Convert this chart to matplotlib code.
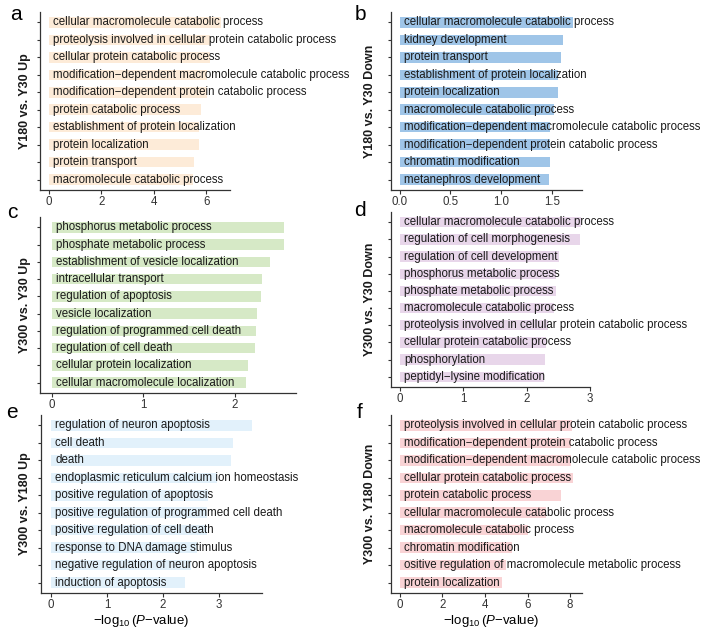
# GO enrichment bar panels a-f
import matplotlib
matplotlib.use("Agg")
import matplotlib.pyplot as plt

plt.rcParams["font.family"] = ["Liberation Sans", "DejaVu Sans"]
plt.rcParams["mathtext.fontset"] = "custom"
plt.rcParams["mathtext.rm"] = "Liberation Sans"
plt.rcParams["mathtext.it"] = "Liberation Sans:italic"

M = "\u2212"

# panel a: Y180 vs. Y30 Up
terms_a = ["cellular macromolecule catabolic process",
           "proteolysis involved in cellular protein catabolic process",
           "cellular protein catabolic process",
           f"modification{M}dependent macromolecule catabolic process",
           f"modification{M}dependent protein catabolic process",
           "protein catabolic process",
           "establishment of protein localization",
           "protein localization",
           "protein transport",
           "macromolecule catabolic process"]
vals_a = [6.58, 6.16, 6.16, 6.03, 6.03, 5.79, 5.71, 5.71, 5.53, 5.50]

# panel b: Y180 vs. Y30 Down
terms_b = ["cellular macromolecule catabolic process",
           "kidney development",
           "protein transport",
           "establishment of protein localization",
           "protein localization",
           "macromolecule catabolic process",
           f"modification{M}dependent macromolecule catabolic process",
           f"modification{M}dependent protein catabolic process",
           "chromatin modification",
           "metanephros development"]
vals_b = [1.71, 1.605, 1.585, 1.56, 1.555, 1.52, 1.476, 1.476, 1.476, 1.47]

# panel c: Y300 vs. Y30 Up
terms_c = ["phosphorus metabolic process",
           "phosphate metabolic process",
           "establishment of vesicle localization",
           "intracellular transport",
           "regulation of apoptosis",
           "vesicle localization",
           "regulation of programmed cell death",
           "regulation of cell death",
           "cellular protein localization",
           "cellular macromolecule localization"]
vals_c = [2.54, 2.54, 2.38, 2.30, 2.28, 2.24, 2.235, 2.22, 2.14, 2.12]

# panel d: Y300 vs. Y30 Down
terms_d = ["cellular macromolecule catabolic process",
           "regulation of cell morphogenesis",
           "regulation of cell development",
           "phosphorus metabolic process",
           "phosphate metabolic process",
           "macromolecule catabolic process",
           "proteolysis involved in cellular protein catabolic process",
           "cellular protein catabolic process",
           "phosphorylation",
           f"peptidyl{M}lysine modification"]
vals_d = [2.86, 2.845, 2.51, 2.47, 2.46, 2.43, 2.34, 2.31, 2.29, 2.28]

# panel e: Y300 vs. Y180 Up
terms_e = ["regulation of neuron apoptosis",
           "cell death",
           "death",
           "endoplasmic reticulum calcium ion homeostasis",
           "positive regulation of apoptosis",
           "positive regulation of programmed cell death",
           "positive regulation of cell death",
           "response to DNA damage stimulus",
           "negative regulation of neuron apoptosis",
           "induction of apoptosis"]
vals_e = [3.59, 3.26, 3.22, 2.97, 2.80, 2.79, 2.78, 2.61, 2.50, 2.39]

# panel f: Y300 vs. Y180 Down
terms_f = ["proteolysis involved in cellular protein catabolic process",
           f"modification{M}dependent protein catabolic process",
           f"modification{M}dependent macromolecule catabolic process",
           "cellular protein catabolic process",
           "protein catabolic process",
           "cellular macromolecule catabolic process",
           "macromolecule catabolic process",
           "chromatin modification",
           "ositive regulation of macromolecule metabolic process",
           "protein localization"]
vals_f = [8.10, 8.05, 8.05, 8.15, 7.56, 6.89, 6.04, 5.29, 4.98, 4.82]

W, H = 709, 631
fig = plt.figure(figsize=(W / 100, H / 100), dpi=100)

def px_axes(left, top, right, bottom):
    return fig.add_axes([left / W, 1 - bottom / H, (right - left) / W, (bottom - top) / H])

panels = [
    ("a", "Y180 vs. Y30 Up", terms_a, vals_a, "#FDEBD8", (40, 12, 230, 190), [0, 2, 4, 6], ["0", "2", "4", "6"], (16, 14), 25),
    ("b", "Y180 vs. Y30 Down", terms_b, vals_b, "#9FC5E8", (391, 12, 582, 190), [0, 0.5, 1.0, 1.5], ["0.0", "0.5", "1.0", "1.5"], (360, 14), 370),
    ("c", "Y300 vs. Y30 Up", terms_c, vals_c, "#D6E9C6", (40, 217, 296, 393), [0, 1, 2], ["0", "1", "2"], (12, 213), 25),
    ("d", "Y300 vs. Y30 Down", terms_d, vals_d, "#E8D6EA", (391, 212, 590, 387), [0, 1, 2, 3], ["0", "1", "2", "3"], (360, 211), 370),
    ("e", "Y300 vs. Y180 Up", terms_e, vals_e, "#E2F1FB", (41, 415, 262, 593), [0, 1, 2, 3], ["0", "1", "2", "3"], (12, 412), 25),
    ("f", "Y300 vs. Y180 Down", terms_f, vals_f, "#F9D3D5", (391, 415, 582, 593), [0, 2, 4, 6, 8], ["0", "2", "4", "6", "8"], (360, 413), 370),
]

for letter, ylab, terms, vals, color, box, ticks, ticklabels, lpos, ylx in panels:
    ax = px_axes(*box)
    n = len(terms)
    ypos = list(range(n, 0, -1))
    ax.barh(ypos, vals, height=0.6, color=color, edgecolor="none")
    for y, t in zip(ypos, terms):
        ax.annotate(t, (0, y), xytext=(3, 0), textcoords="offset points",
                    va="center", ha="left", fontsize=8.3, color="#1a1a1a")
    vmax = max(vals)
    ax.set_xlim(-0.05 * vmax, 1.05 * vmax)
    ax.set_ylim(0.4, n + 0.6)
    ax.set_yticks(ypos)
    ax.set_yticklabels([])
    ax.set_xticks(ticks)
    ax.set_xticklabels(ticklabels)
    ax.tick_params(axis="x", length=3, width=0.8, color="#333333", labelsize=8.3,
                   labelcolor="#333333", pad=1.5)
    ax.tick_params(axis="y", length=2.5, width=0.8, color="#333333")
    for s in ["top", "right"]:
        ax.spines[s].set_visible(False)
    for s in ["left", "bottom"]:
        ax.spines[s].set_color("#333333")
        ax.spines[s].set_linewidth(0.9)
    ax.set_facecolor("none")
    cy = (box[1] + box[3]) / 2
    fig.text(ylx / W, 1 - cy / H, ylab, rotation=90, ha="center", va="center",
             fontsize=9, fontweight="bold", color="#1a1a1a")
    fig.text(lpos[0] / W, 1 - lpos[1] / H, letter, ha="center", va="center",
             fontsize=15, color="black")

xlab = r"$\mathrm{-log}_{10}\,(\mathit{P}\mathrm{-value})$"
fig.text(141 / W, 1 - 621 / H, xlab, ha="center", va="center", fontsize=9.5)
fig.text(491 / W, 1 - 621 / H, xlab, ha="center", va="center", fontsize=9.5)

fig.savefig("out.png", dpi=100)
